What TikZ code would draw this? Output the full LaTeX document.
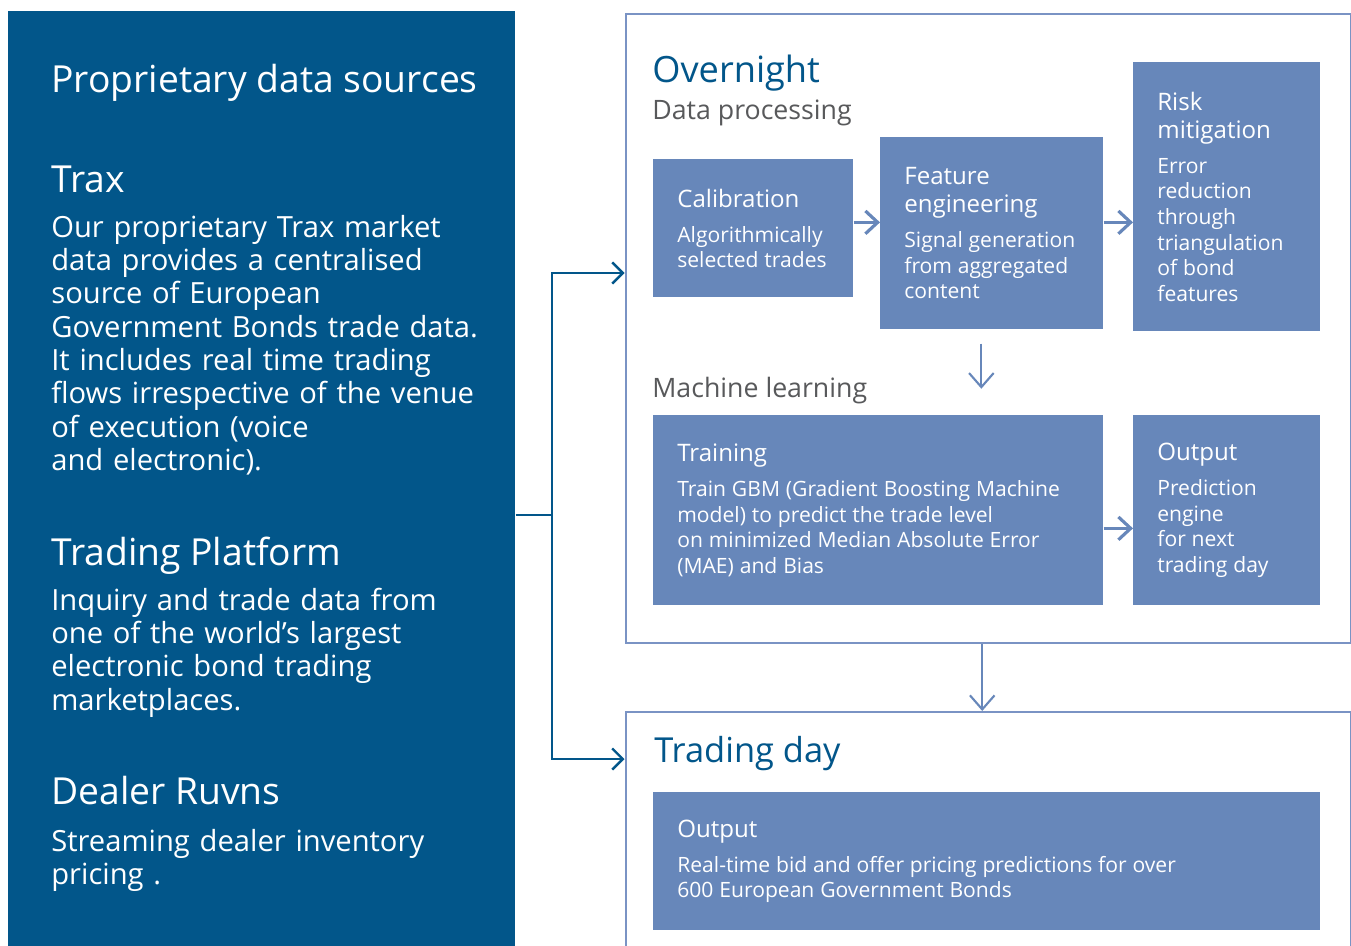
\documentclass[tikz,border=0pt]{standalone}
\usepackage{fontspec}
\setmainfont{Open Sans}
\usetikzlibrary{arrows.meta}
\definecolor{navy}{HTML}{02568A}
\definecolor{steel}{HTML}{6787BA}
\definecolor{frame}{HTML}{7A93C4}
\definecolor{greytxt}{HTML}{58595B}
\newcommand{\hdfont}{\fontsize{13.7}{15.9}\selectfont}
\newcommand{\bdfont}{\fontsize{12}{14.6}\selectfont}
\newcommand{\bxtxt}[2]{{\hdfont #1\par}\vskip5.3pt{\bdfont #2\par}}
\tikzset{src/.style={fill=navy,inner sep=0pt,anchor=north west},
 frm/.style={draw=frame,line width=1.4pt,inner sep=0pt,anchor=north west},
 bx/.style 2 args={fill=steel,text=white,align=left,anchor=north west,inner xsep=0.48cm,inner ysep=0pt,text width=#1,minimum height=#2},
 big/.style={anchor=base west,inner sep=0pt,font=\fontsize{21.2}{24}\selectfont},
 lbody/.style={anchor=base west,inner sep=0pt,text=white,align=left,text width=9.6cm,font=\fontsize{16.6}{19}\selectfont},
 sub/.style={anchor=base west,inner sep=0pt,text=greytxt,font=\fontsize{15.2}{18}\selectfont},
 nv/.style={draw=navy,line width=1.4pt},
 nva/.style={nv,-{Straight Barb[length=6pt,width=12pt]}},
 ar/.style={draw=steel,line width=1.8pt,-{Straight Barb[length=7pt,width=13pt]}},
 tar/.style={draw=steel,line width=1.2pt,-{Straight Barb[length=8pt,width=14pt]}}}

\begin{document}
\begin{tikzpicture}
\useasboundingbox (0,0) rectangle (27.02,-18.9);
\clip (0,0) rectangle (27.02,-18.9);
\fill[white] (0,0) rectangle (27.02,-18.9);
% sources
\node[src,minimum width=10.14cm,minimum height=19cm](src) at (0.16,-0.22){};
\node[big,text=white](ttl) at (1.02,-1.84){Proprietary data sources};
\node[big,text=white](trax) at (1.02,-3.84){Trax};
\node[lbody](traxb) at (1.02,-4.74){Our proprietary Trax market\\data provides a centralised\\source of European\\Government Bonds trade data.\\It includes real time trading\\flows irrespective of the venue\\of execution (voice\\and electronic).};
\node[big,text=white](plat) at (1.02,-11.30){Trading Platform};
\node[lbody](platb) at (1.02,-12.20){Inquiry and trade data from\\one of the world’s largest\\electronic bond trading\\marketplaces.};
\node[big,text=white](dlr) at (1.02,-16.08){Dealer Ruvns};
\node[lbody](dlrb) at (1.02,-17.02){Streaming dealer inventory\\pricing .};
% overnight
\node[frm,minimum width=14.5cm,minimum height=12.58cm](night) at (12.49,-0.26){};
\node[big,text=navy,font=\fontsize{20.6}{24}\selectfont](nightt) at (13.04,-1.64){Overnight};
\node[sub](dp) at (13.04,-2.38){Data processing};
\node[bx={3.04cm}{2.76cm}](cal) at (13.06,-3.18){\bxtxt{Calibration}{Algorithmically\\selected trades}};
\node[bx={3.5cm}{3.84cm}](feat) at (17.6,-2.74){\bxtxt{Feature\\engineering}{Signal generation\\from aggregated\\content}};
\node[bx={2.78cm}{5.38cm}](risk) at (22.66,-1.24){\bxtxt{Risk\\mitigation}{Error\\reduction\\through\\triangulation\\of bond\\features}};
\node[sub](ml) at (13.04,-7.94){Machine learning};
\node[bx={8.04cm}{3.8cm}](trn) at (13.06,-8.3){\bxtxt{Training}{Train GBM (Gradient Boosting Machine\\model) to predict the trade level\\on minimized Median Absolute Error\\(MAE) and Bias}};
\node[bx={2.78cm}{3.8cm}](outp) at (22.66,-8.3){\bxtxt{Output}{Prediction\\engine\\for next\\trading day}};
% trading day
\node[frm,minimum width=14.5cm,minimum height=6cm](day) at (12.49,-14.22){};
\node[big,text=navy,font=\fontsize{19.6}{24}\selectfont](dayt) at (13.08,-15.24){Trading day};
\node[bx={12.38cm}{2.76cm}](outd) at (13.06,-15.84){\bxtxt{Output}{Real-time bid and offer pricing predictions for over\\600 European Government Bonds}};
% connectors
\coordinate (fork) at (11.04,-10.3);
\draw[nv](fork -| src.east)--(fork);
\draw[nva](fork)|-([yshift=-5.2cm]night.north west);\draw[nva](fork)|-([yshift=-0.96cm]day.north west);
\draw[ar]([yshift=0.12cm]cal.east)--([yshift=0.12cm]cal.east -| feat.west);
\draw[ar]([yshift=0.22cm]feat.east)--([yshift=0.22cm]feat.east -| risk.west);
\draw[ar]([yshift=-0.36cm]trn.east)--([yshift=-0.36cm]trn.east -| outp.west);
\draw[tar]([xshift=-0.21cm,yshift=-0.28cm]feat.south)--++(0,-0.9);
\draw[tar]([xshift=-0.12cm]night.south)--([xshift=-0.12cm]night.south |- day.north);
\end{tikzpicture}
\end{document}
